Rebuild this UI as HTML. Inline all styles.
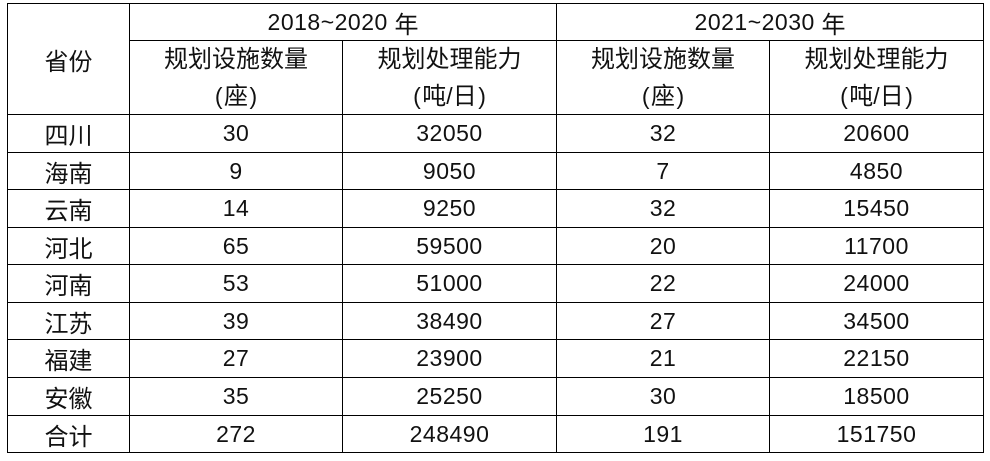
<!DOCTYPE html>
<html><head><meta charset="utf-8">
<style>
html,body{margin:0;padding:0;background:#fff;}
body{width:990px;height:461px;position:relative;overflow:hidden;font-family:"Liberation Sans","Noto Sans CJK SC",sans-serif;color:#111;}
.h{position:absolute;height:1px;background:#000;}
.v{position:absolute;width:1px;background:#000;}
.c{position:absolute;display:flex;align-items:center;justify-content:center;text-align:center;white-space:nowrap;}
.cj{font-size:24px;}
.n{font-size:23px;letter-spacing:0.5px;}
.two{flex-direction:column;line-height:37px;font-size:24px;}
.two .l2{font-size:24px;}
.p{font-family:"Liberation Sans",sans-serif;font-size:23px;margin:0 1.5px;}
</style></head><body>
<!-- horizontal lines -->
<div class="h" style="left:7px;width:977px;top:3px"></div>
<div class="h" style="left:129px;width:855px;top:40px"></div>
<div class="h" style="left:7px;width:977px;top:114px"></div>
<div class="h" style="left:7px;width:977px;top:152px"></div>
<div class="h" style="left:7px;width:977px;top:189px"></div>
<div class="h" style="left:7px;width:977px;top:227px"></div>
<div class="h" style="left:7px;width:977px;top:264px"></div>
<div class="h" style="left:7px;width:977px;top:302px"></div>
<div class="h" style="left:7px;width:977px;top:339px"></div>
<div class="h" style="left:7px;width:977px;top:377px"></div>
<div class="h" style="left:7px;width:977px;top:415px"></div>
<div class="h" style="left:7px;width:977px;top:452px"></div>
<!-- vertical lines -->
<div class="v" style="left:7px;top:3px;height:450px"></div>
<div class="v" style="left:129px;top:3px;height:450px"></div>
<div class="v" style="left:342px;top:40px;height:413px"></div>
<div class="v" style="left:556px;top:3px;height:450px"></div>
<div class="v" style="left:769px;top:40px;height:413px"></div>
<div class="v" style="left:983px;top:3px;height:450px"></div>

<!-- header -->
<div class="c cj" style="left:8px;width:121px;top:4px;height:110px">省份</div>
<div class="c" style="left:130px;width:426px;top:4px;height:36px"><span class="n">2018~2020</span><span class="cj">&nbsp;年</span></div>
<div class="c" style="left:557px;width:426px;top:4px;height:36px"><span class="n">2021~2030</span><span class="cj">&nbsp;年</span></div>

<div class="c two" style="left:130px;width:212px;top:41px;height:73px"><div>规划设施数量</div><div class="l2"><span class="p">(</span>座<span class="p">)</span></div></div>
<div class="c two" style="left:343px;width:213px;top:41px;height:73px"><div>规划处理能力</div><div class="l2"><span class="p">(</span>吨<span class="p" style="margin:0">/</span>日<span class="p">)</span></div></div>
<div class="c two" style="left:557px;width:212px;top:41px;height:73px"><div>规划设施数量</div><div class="l2"><span class="p">(</span>座<span class="p">)</span></div></div>
<div class="c two" style="left:770px;width:213px;top:41px;height:73px"><div>规划处理能力</div><div class="l2"><span class="p">(</span>吨<span class="p" style="margin:0">/</span>日<span class="p">)</span></div></div>

<!-- rows -->
<div class="c cj" style="left:8px;width:121px;top:115px;height:37px">四川</div>
<div class="c n" style="left:130px;width:212px;top:115px;height:37px">30</div>
<div class="c n" style="left:343px;width:213px;top:115px;height:37px">32050</div>
<div class="c n" style="left:557px;width:212px;top:115px;height:37px">32</div>
<div class="c n" style="left:770px;width:213px;top:115px;height:37px">20600</div>

<div class="c cj" style="left:8px;width:121px;top:153px;height:36px">海南</div>
<div class="c n" style="left:130px;width:212px;top:153px;height:36px">9</div>
<div class="c n" style="left:343px;width:213px;top:153px;height:36px">9050</div>
<div class="c n" style="left:557px;width:212px;top:153px;height:36px">7</div>
<div class="c n" style="left:770px;width:213px;top:153px;height:36px">4850</div>

<div class="c cj" style="left:8px;width:121px;top:190px;height:37px">云南</div>
<div class="c n" style="left:130px;width:212px;top:190px;height:37px">14</div>
<div class="c n" style="left:343px;width:213px;top:190px;height:37px">9250</div>
<div class="c n" style="left:557px;width:212px;top:190px;height:37px">32</div>
<div class="c n" style="left:770px;width:213px;top:190px;height:37px">15450</div>

<div class="c cj" style="left:8px;width:121px;top:228px;height:36px">河北</div>
<div class="c n" style="left:130px;width:212px;top:228px;height:36px">65</div>
<div class="c n" style="left:343px;width:213px;top:228px;height:36px">59500</div>
<div class="c n" style="left:557px;width:212px;top:228px;height:36px">20</div>
<div class="c n" style="left:770px;width:213px;top:228px;height:36px">11700</div>

<div class="c cj" style="left:8px;width:121px;top:265px;height:37px">河南</div>
<div class="c n" style="left:130px;width:212px;top:265px;height:37px">53</div>
<div class="c n" style="left:343px;width:213px;top:265px;height:37px">51000</div>
<div class="c n" style="left:557px;width:212px;top:265px;height:37px">22</div>
<div class="c n" style="left:770px;width:213px;top:265px;height:37px">24000</div>

<div class="c cj" style="left:8px;width:121px;top:303px;height:36px">江苏</div>
<div class="c n" style="left:130px;width:212px;top:303px;height:36px">39</div>
<div class="c n" style="left:343px;width:213px;top:303px;height:36px">38490</div>
<div class="c n" style="left:557px;width:212px;top:303px;height:36px">27</div>
<div class="c n" style="left:770px;width:213px;top:303px;height:36px">34500</div>

<div class="c cj" style="left:8px;width:121px;top:340px;height:37px">福建</div>
<div class="c n" style="left:130px;width:212px;top:340px;height:37px">27</div>
<div class="c n" style="left:343px;width:213px;top:340px;height:37px">23900</div>
<div class="c n" style="left:557px;width:212px;top:340px;height:37px">21</div>
<div class="c n" style="left:770px;width:213px;top:340px;height:37px">22150</div>

<div class="c cj" style="left:8px;width:121px;top:378px;height:37px">安徽</div>
<div class="c n" style="left:130px;width:212px;top:378px;height:37px">35</div>
<div class="c n" style="left:343px;width:213px;top:378px;height:37px">25250</div>
<div class="c n" style="left:557px;width:212px;top:378px;height:37px">30</div>
<div class="c n" style="left:770px;width:213px;top:378px;height:37px">18500</div>

<div class="c cj" style="left:8px;width:121px;top:416px;height:36px">合计</div>
<div class="c n" style="left:130px;width:212px;top:416px;height:36px">272</div>
<div class="c n" style="left:343px;width:213px;top:416px;height:36px">248490</div>
<div class="c n" style="left:557px;width:212px;top:416px;height:36px">191</div>
<div class="c n" style="left:770px;width:213px;top:416px;height:36px">151750</div>
</body></html>
